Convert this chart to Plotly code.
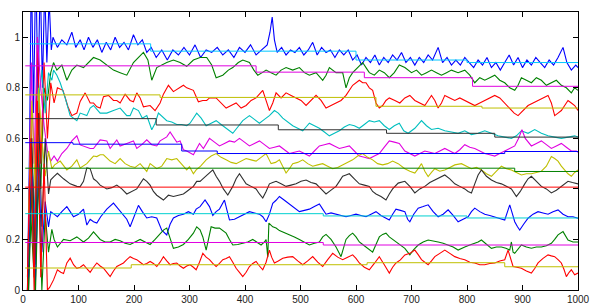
import plotly.graph_objects as go

# ---------------- data ----------------
BLUE_TOP = [(8,0.0),(12,0.6),(15,1.3),(19,0.7),(23,1.3),(27,0.75),(31,1.25),(35,0.8),(39,1.2),(43,0.9),(47,1.15),(51,0.95),
 (54,1.0),(62,0.96),(70,0.99),(79,0.97),(88,1.02),(95,0.96),(103,0.99),(110,0.95),(118,1.0),(126,0.96),(134,0.99),(142,0.94),
 (150,0.98),(158,0.95),(166,1.0),(174,0.96),(182,0.98),(190,0.95),(199,1.01),(207,0.97),(215,0.99),(223,0.94),(231,0.96),
 (240,0.92),(250,0.95),(260,0.91),(270,0.95),(280,0.93),(290,0.96),(300,0.93),(310,0.97),(320,0.92),(330,0.95),(340,0.94),
 (350,0.96),(360,0.93),(370,0.95),(380,0.92),(390,0.96),(400,0.94),(410,0.97),(420,0.93),(430,0.95),(440,0.97),(445,1.02),
 (449,1.08),(453,0.99),(458,0.94),(466,0.96),(474,0.93),(482,0.95),(490,0.94),(498,0.96),(506,0.93),(514,0.95),(522,0.98),
 (530,0.93),(538,0.96),(546,0.94),(554,0.95),(562,0.92),(570,0.95),(578,0.93),(586,0.95),(594,0.91),(602,0.93),(610,0.89),
 (618,0.92),(626,0.90),(634,0.93),(642,0.89),(650,0.92),(658,0.90),(666,0.93),(674,0.91),(682,0.94),(690,0.90),(698,0.92),
 (706,0.89),(714,0.92),(722,0.90),(730,0.93),(738,0.91),(748,0.96),(756,0.90),(764,0.92),(772,0.89),(780,0.91),(788,0.89),
 (796,0.92),(804,0.90),(812,0.88),(820,0.91),(828,0.89),(836,0.92),(844,0.88),(852,0.90),(860,0.87),(868,0.90),(876,0.93),
 (884,0.89),(892,0.92),(900,0.88),(908,0.91),(916,0.89),(924,0.92),(932,0.90),(940,0.88),(948,0.91),(956,0.89),(964,0.92),
 (973,0.96),(980,0.90),(988,0.87),(996,0.89),(1000,0.88)]

GREEN_TOP = [(8,0.0),(14,0.3),(20,0.05),(26,0.6),(32,0.4),(38,0.8),(44,0.75),(50,0.86),(55,0.9),(61,0.87),(70,0.89),(79,0.83),
 (88,0.87),(97,0.89),(109,0.88),(118,0.90),(127,0.92),(139,0.91),(151,0.89),(163,0.87),(175,0.86),(187,0.85),(199,0.90),
 (208,0.92),(217,0.94),(225,0.91),(232,0.83),(241,0.88),(250,0.89),(259,0.90),(271,0.91),(283,0.90),(295,0.885),(307,0.91),
 (319,0.92),(331,0.92),(340,0.89),(348,0.84),(360,0.85),(370,0.87),(378,0.88),(388,0.90),(396,0.91),(408,0.90),(416,0.87),
 (423,0.85),(431,0.86),(438,0.87),(447,0.86),(456,0.85),(465,0.87),(474,0.88),(486,0.87),(498,0.88),(507,0.86),(516,0.85),
 (528,0.86),(540,0.83),(546,0.85),(552,0.88),(564,0.86),(576,0.86),(582,0.80),(588,0.84),(594,0.86),(603,0.88),(612,0.90),
 (618,0.88),(624,0.86),(633,0.85),(642,0.87),(651,0.86),(660,0.84),(669,0.86),(678,0.89),(688,0.88),(700,0.86),(709,0.87),
 (718,0.85),(727,0.86),(736,0.87),(745,0.86),(754,0.85),(763,0.86),(772,0.87),(784,0.86),(796,0.87),(805,0.85),(814,0.82),
 (823,0.84),(832,0.83),(841,0.84),(850,0.85),(859,0.83),(868,0.82),(877,0.80),(886,0.79),(892,0.81),(898,0.84),(907,0.83),
 (916,0.82),(925,0.84),(934,0.83),(943,0.81),(952,0.82),(961,0.83),(970,0.81),(979,0.80),(988,0.78),(994,0.80),(1000,0.79)]

RED_TOP = [(8,0.0),(14,0.7),(20,0.1),(26,1.0),(32,0.5),(38,0.9),(44,0.6),(50,0.82),(56,0.74),(62,0.8),(72,0.79),(81,0.725),
 (88,0.69),(97,0.70),(103,0.746),(112,0.78),(121,0.74),(127,0.74),(133,0.725),(139,0.72),(145,0.765),(154,0.77),(163,0.75),
 (169,0.75),(175,0.74),(184,0.775),(193,0.75),(199,0.745),(205,0.78),(211,0.76),(217,0.725),(229,0.73),(238,0.71),(247,0.74),
 (253,0.775),(262,0.81),(271,0.785),(283,0.80),(289,0.81),(295,0.80),(307,0.79),(316,0.745),(324,0.75),(331,0.75),(336,0.76),
 (348,0.76),(357,0.74),(366,0.72),(375,0.73),(384,0.74),(393,0.72),(402,0.73),(411,0.75),(420,0.76),(432,0.79),(438,0.75),
 (444,0.71),(450,0.74),(456,0.78),(465,0.76),(474,0.78),(483,0.77),(492,0.76),(501,0.75),(510,0.73),(519,0.75),(528,0.77),
 (537,0.75),(546,0.72),(555,0.73),(564,0.74),(573,0.75),(582,0.77),(588,0.79),(594,0.81),(606,0.83),(612,0.82),(618,0.82),
 (624,0.80),(630,0.79),(636,0.74),(642,0.72),(648,0.73),(654,0.75),(660,0.76),(670,0.75),(679,0.74),(688,0.76),(697,0.77),
 (706,0.75),(715,0.74),(724,0.73),(730,0.75),(736,0.77),(742,0.75),(748,0.72),(754,0.74),(760,0.77),(769,0.76),(778,0.75),
 (787,0.76),(796,0.75),(805,0.74),(814,0.73),(823,0.74),(832,0.75),(841,0.76),(850,0.77),(859,0.76),(868,0.74),(877,0.72),
 (885,0.70),(892,0.69),(901,0.71),(910,0.73),(919,0.74),(928,0.75),(937,0.76),(946,0.77),(952,0.74),(958,0.69),(964,0.70),
 (970,0.71),(976,0.73),(982,0.75),(988,0.74),(994,0.73),(1000,0.71)]

CYAN_MID = [(10,0.1),(16,0.5),(22,0.3),(28,0.75),(34,0.87),(40,0.7),(46,0.86),(52,0.83),(55,0.87),(61,0.85),(67,0.82),(76,0.76),
 (85,0.69),(97,0.67),(103,0.70),(115,0.69),(121,0.72),(127,0.73),(139,0.70),(151,0.70),(163,0.71),(175,0.72),(187,0.69),
 (193,0.69),(199,0.72),(208,0.71),(215,0.68),(223,0.69),(232,0.634),(238,0.66),(244,0.70),(253,0.68),(259,0.67),(268,0.665),
 (277,0.655),(286,0.655),(295,0.65),(301,0.66),(307,0.68),(313,0.70),(321,0.68),(330,0.65),(339,0.66),(348,0.67),(357,0.655),
 (366,0.64),(378,0.62),(387,0.645),(396,0.67),(408,0.69),(417,0.675),(426,0.66),(435,0.675),(444,0.69),(453,0.71),(460,0.70),
 (468,0.68),(477,0.665),(486,0.65),(495,0.64),(504,0.63),(510,0.645),(516,0.66),(525,0.65),(534,0.64),(543,0.625),(552,0.61),
 (561,0.62),(570,0.63),(579,0.645),(588,0.655),(597,0.65),(606,0.64),(615,0.655),(624,0.67),(633,0.665),(642,0.67),(651,0.65),
 (660,0.635),(669,0.65),(678,0.66),(686,0.63),(694,0.62),(706,0.64),(718,0.67),(727,0.65),(736,0.635),(748,0.64),(760,0.63),
 (772,0.625),(784,0.62),(796,0.63),(808,0.615),(820,0.62),(832,0.63),(844,0.62),(856,0.61),(868,0.605),(880,0.60),(889,0.61),
 (898,0.63),(910,0.62),(922,0.635),(934,0.62),(946,0.61),(958,0.605),(970,0.60),(982,0.605),(994,0.61),(1000,0.605)]

MAGENTA_MID = [(10,0.2),(15,0.9),(20,0.5),(26,1.0),(32,0.8),(38,0.65),(44,0.55),(50,0.51),(56,0.53),(62,0.51),(70,0.54),(79,0.56),
 (88,0.59),(97,0.61),(103,0.574),(109,0.57),(121,0.56),(127,0.56),(139,0.594),(151,0.59),(157,0.56),(169,0.594),(175,0.57),
 (187,0.58),(199,0.59),(205,0.56),(214,0.575),(223,0.594),(232,0.575),(241,0.57),(247,0.59),(259,0.606),(265,0.625),(277,0.585),
 (283,0.59),(289,0.555),(295,0.55),(307,0.535),(313,0.56),(318,0.58),(325,0.56),(336,0.60),(345,0.585),(354,0.57),(363,0.58),
 (372,0.59),(381,0.585),(390,0.60),(399,0.585),(408,0.57),(417,0.58),(426,0.59),(435,0.575),(444,0.56),(453,0.565),(462,0.57),
 (471,0.555),(480,0.54),(489,0.545),(498,0.55),(507,0.54),(516,0.53),(525,0.55),(534,0.57),(543,0.575),(552,0.58),(561,0.57),
 (570,0.56),(579,0.565),(588,0.57),(597,0.55),(606,0.53),(615,0.525),(624,0.52),(633,0.53),(642,0.54),(651,0.565),(660,0.59),
 (669,0.585),(678,0.58),(688,0.55),(697,0.54),(706,0.53),(715,0.54),(724,0.55),(733,0.545),(742,0.54),(751,0.55),(760,0.56),
 (769,0.55),(778,0.54),(787,0.555),(796,0.575),(805,0.565),(814,0.56),(823,0.55),(832,0.54),(841,0.535),(850,0.53),(859,0.54),
 (868,0.55),(877,0.56),(886,0.57),(893,0.60),(899,0.634),(905,0.60),(916,0.57),(925,0.58),(934,0.59),(943,0.575),(952,0.56),
 (961,0.57),(970,0.58),(979,0.565),(988,0.55),(997,0.55),(1000,0.545)]

YELLOW_MID = [(10,0.3),(16,0.75),(22,0.4),(28,0.8),(34,0.6),(40,0.45),(46,0.55),(52,0.48),(57,0.495),(67,0.51),(79,0.475),(88,0.49),
 (97,0.515),(103,0.483),(115,0.50),(127,0.53),(133,0.528),(139,0.535),(145,0.535),(157,0.51),(166,0.50),(175,0.52),(184,0.50),
 (193,0.49),(202,0.485),(211,0.50),(223,0.469),(229,0.50),(241,0.48),(250,0.49),(259,0.52),(268,0.515),(277,0.52),(289,0.49),
 (295,0.475),(300,0.488),(307,0.46),(312,0.475),(320,0.49),(330,0.515),(339,0.53),(348,0.54),(357,0.525),(366,0.515),(375,0.505),
 (384,0.50),(393,0.51),(402,0.52),(411,0.515),(420,0.51),(429,0.525),(438,0.54),(447,0.50),(455,0.505),(462,0.515),(468,0.49),
 (474,0.463),(480,0.48),(486,0.50),(495,0.505),(504,0.515),(513,0.50),(522,0.49),(531,0.495),(540,0.50),(549,0.49),(558,0.48),
 (567,0.485),(576,0.495),(585,0.505),(594,0.515),(603,0.53),(612,0.54),(621,0.525),(630,0.515),(639,0.50),(648,0.495),(657,0.50),
 (666,0.51),(676,0.50),(688,0.48),(697,0.47),(706,0.463),(712,0.48),(718,0.50),(724,0.47),(730,0.449),(736,0.465),(742,0.48),
 (751,0.47),(760,0.475),(769,0.485),(778,0.495),(790,0.50),(799,0.49),(808,0.48),(817,0.485),(826,0.475),(835,0.46),(844,0.45),
 (853,0.47),(862,0.49),(871,0.48),(880,0.475),(889,0.465),(898,0.455),(907,0.46),(916,0.46),(925,0.465),(934,0.47),(943,0.49),
 (952,0.528),(958,0.52),(964,0.51),(970,0.49),(976,0.475),(982,0.46),(988,0.45),(994,0.465),(1000,0.475)]

BLACK_MID = [(10,0.0),(16,0.6),(22,0.1),(28,0.7),(34,0.25),(40,0.6),(46,0.38),(50,0.436),(56,0.45),(62,0.462),(73,0.44),(85,0.42),
 (97,0.41),(103,0.409),(109,0.43),(115,0.483),(121,0.48),(127,0.44),(133,0.43),(139,0.415),(151,0.40),(160,0.405),(169,0.415),
 (178,0.40),(187,0.38),(196,0.39),(205,0.40),(217,0.44),(223,0.43),(229,0.415),(235,0.39),(241,0.375),(247,0.365),(253,0.356),
 (262,0.375),(271,0.37),(280,0.375),(289,0.38),(295,0.39),(301,0.40),(307,0.41),(313,0.43),(319,0.43),(324,0.44),(331,0.455),
 (342,0.475),(348,0.45),(354,0.43),(361,0.40),(369,0.376),(378,0.41),(384,0.44),(390,0.46),(396,0.44),(402,0.42),(411,0.41),
 (420,0.40),(426,0.38),(432,0.364),(438,0.39),(444,0.42),(450,0.425),(456,0.43),(465,0.42),(474,0.41),(483,0.415),(492,0.42),
 (501,0.43),(510,0.435),(519,0.425),(528,0.42),(537,0.40),(546,0.38),(555,0.395),(564,0.41),(570,0.43),(576,0.45),(582,0.455),
 (588,0.46),(597,0.44),(606,0.42),(615,0.415),(624,0.41),(630,0.39),(636,0.38),(645,0.37),(654,0.356),(660,0.38),(666,0.40),
 (676,0.423),(688,0.43),(697,0.41),(706,0.384),(715,0.40),(724,0.41),(733,0.425),(742,0.435),(751,0.445),(760,0.455),(769,0.44),
 (778,0.42),(787,0.41),(796,0.40),(802,0.39),(808,0.384),(814,0.42),(820,0.455),(826,0.475),(835,0.45),(844,0.435),(853,0.425),
 (862,0.42),(871,0.41),(880,0.40),(889,0.37),(896,0.39),(904,0.42),(910,0.44),(916,0.45),(925,0.43),(934,0.41),(943,0.40),
 (952,0.384),(961,0.395),(970,0.41),(982,0.43),(990,0.425),(1000,0.42)]

BLUE_LOW = [(10,0.05),(16,0.45),(22,0.0),(28,0.5),(34,0.15),(40,0.35),(46,0.25),(50,0.31),(56,0.30),(62,0.29),(70,0.31),(79,0.33),
 (85,0.31),(91,0.29),(100,0.30),(109,0.32),(115,0.257),(121,0.28),(127,0.27),(133,0.265),(140,0.29),(151,0.32),(163,0.344),
 (172,0.32),(181,0.30),(187,0.28),(193,0.25),(200,0.29),(208,0.335),(215,0.31),(223,0.285),(232,0.29),(241,0.285),(250,0.237),
 (255,0.225),(259,0.218),(265,0.26),(271,0.285),(280,0.295),(289,0.30),(298,0.31),(307,0.30),(312,0.32),(319,0.33),(328,0.356),
 (336,0.33),(342,0.295),(348,0.31),(354,0.32),(363,0.356),(367,0.32),(372,0.277),(381,0.28),(390,0.29),(399,0.30),(408,0.31),
 (417,0.305),(426,0.30),(432,0.29),(438,0.27),(444,0.30),(450,0.343),(456,0.355),(462,0.37),(471,0.355),(480,0.34),(489,0.325),
 (498,0.31),(507,0.315),(516,0.32),(525,0.33),(534,0.34),(540,0.32),(546,0.30),(555,0.305),(564,0.30),(573,0.295),(582,0.29),
 (591,0.295),(600,0.30),(609,0.295),(618,0.29),(627,0.30),(636,0.31),(645,0.295),(654,0.285),(660,0.277),(666,0.30),(672,0.32),
 (680,0.315),(688,0.31),(693,0.28),(697,0.27),(704,0.30),(712,0.324),(721,0.33),(730,0.337),(739,0.31),(748,0.29),(757,0.30),
 (766,0.317),(775,0.295),(784,0.27),(793,0.28),(802,0.29),(808,0.31),(814,0.324),(823,0.31),(832,0.30),(841,0.295),(850,0.29),
 (859,0.285),(868,0.277),(873,0.31),(877,0.337),(882,0.30),(886,0.27),(891,0.25),(895,0.237),(902,0.26),(910,0.284),(919,0.30),
 (928,0.31),(937,0.305),(946,0.30),(955,0.31),(964,0.317),(973,0.30),(982,0.29),(991,0.29),(1000,0.284)]

GREEN_LOW = [(10,0.0),(16,0.4),(22,-0.05),(28,0.45),(34,0.0),(40,0.3),(46,0.15),(52,0.24),(56,0.2),(62,0.17),(73,0.20),(85,0.195),
 (97,0.21),(109,0.19),(118,0.205),(127,0.23),(133,0.215),(139,0.20),(148,0.19),(157,0.19),(166,0.20),(175,0.195),(184,0.185),
 (193,0.18),(202,0.19),(211,0.20),(220,0.19),(229,0.18),(238,0.20),(247,0.225),(253,0.237),(259,0.245),(265,0.20),(271,0.165),
 (280,0.17),(289,0.18),(298,0.20),(307,0.225),(313,0.25),(319,0.238),(324,0.21),(330,0.158),(339,0.25),(346,0.245),(354,0.245),
 (360,0.235),(366,0.225),(372,0.20),(378,0.178),(387,0.18),(396,0.185),(405,0.19),(414,0.20),(422,0.19),(429,0.178),(435,0.19),
 (438,0.20),(441,0.13),(443,0.265),(450,0.25),(456,0.245),(462,0.235),(468,0.23),(474,0.225),(480,0.22),(489,0.21),(498,0.20),
 (507,0.19),(516,0.178),(525,0.185),(534,0.19),(540,0.21),(546,0.22),(555,0.20),(564,0.17),(573,0.132),(578,0.17),(582,0.20),
 (588,0.215),(594,0.225),(600,0.21),(606,0.19),(612,0.18),(618,0.17),(624,0.16),(630,0.15),(636,0.18),(642,0.21),(648,0.22),
 (654,0.225),(660,0.21),(666,0.20),(672,0.19),(680,0.178),(688,0.165),(697,0.139),(704,0.16),(712,0.178),(721,0.19),(730,0.198),
 (739,0.195),(748,0.19),(757,0.185),(766,0.178),(775,0.17),(784,0.158),(790,0.165),(796,0.17),(805,0.178),(814,0.185),(820,0.19),
 (826,0.198),(835,0.18),(844,0.165),(853,0.17),(862,0.17),(870,0.165),(877,0.158),(880,0.19),(883,0.15),(886,0.145),(892,0.16),
 (898,0.178),(907,0.17),(916,0.165),(925,0.17),(934,0.17),(943,0.175),(952,0.185),(958,0.20),(964,0.218),(973,0.231),(979,0.21),
 (982,0.198),(991,0.19),(1000,0.19)]

RED_LOW = [(8,0.05),(14,0.6),(20,0.0),(26,0.75),(32,0.05),(38,0.5),(44,0.0),(48,0.01),(55,0.04),(62,0.08),(68,0.07),(73,0.065),
 (79,0.107),(85,0.126),(91,0.10),(97,0.086),(103,0.09),(109,0.10),(115,0.085),(121,0.07),(127,0.09),(133,0.107),(139,0.095),
 (145,0.086),(151,0.07),(157,0.053),(163,0.075),(169,0.093),(175,0.10),(181,0.107),(187,0.12),(193,0.132),(199,0.125),(205,0.12),
 (211,0.11),(217,0.10),(223,0.105),(229,0.113),(235,0.105),(241,0.093),(247,0.11),(253,0.132),(259,0.115),(265,0.10),(271,0.105),
 (277,0.107),(283,0.095),(289,0.086),(295,0.095),(301,0.10),(307,0.09),(312,0.08),(318,0.11),(324,0.145),(330,0.13),(336,0.12),
 (342,0.105),(348,0.093),(354,0.105),(360,0.12),(366,0.125),(372,0.132),(378,0.11),(384,0.086),(390,0.07),(396,0.053),(402,0.07),
 (408,0.093),(414,0.105),(420,0.113),(426,0.095),(432,0.08),(438,0.11),(444,0.158),(448,0.13),(453,0.107),(460,0.115),(468,0.126),
 (477,0.13),(486,0.132),(495,0.115),(504,0.10),(513,0.115),(522,0.132),(531,0.11),(540,0.093),(549,0.12),(558,0.145),(567,0.13),
 (576,0.12),(585,0.13),(594,0.139),(600,0.125),(606,0.107),(615,0.09),(624,0.08),(633,0.105),(642,0.132),(651,0.10),(660,0.067),
 (666,0.09),(672,0.107),(680,0.119),(688,0.139),(697,0.145),(706,0.158),(712,0.14),(718,0.12),(724,0.11),(730,0.10),(736,0.115),
 (742,0.132),(751,0.145),(760,0.158),(769,0.145),(778,0.132),(787,0.125),(796,0.12),(805,0.11),(814,0.107),(823,0.10),(832,0.10),
 (841,0.105),(850,0.107),(859,0.115),(868,0.12),(874,0.158),(879,0.12),(883,0.093),(890,0.09),(898,0.086),(907,0.075),(916,0.067),
 (922,0.085),(928,0.107),(937,0.125),(946,0.139),(952,0.135),(958,0.132),(964,0.12),(970,0.107),(975,0.08),(979,0.053),(984,0.07),
 (988,0.08),(994,0.06),(1000,0.067)]

# step-shaped reference levels: (start x of each level, level)
REF_CYAN_TOP = [(12,0.974),(230,0.945),(600,0.91),(800,0.90),(1000,0.90)]
REF_MAGENTA_TOP = [(4,0.887),(420,0.862),(615,0.84),(810,0.806),(1000,0.806)]
REF_YELLOW_TOP = [(4,0.772),(247,0.762),(636,0.727),(827,0.72),(1000,0.72)]
REF_BLACK = [(4,0.678),(240,0.653),(460,0.634),(655,0.62),(850,0.605),(1000,0.605)]
REF_BLUE = [(4,0.583),(90,0.577),(286,0.55),(350,0.54),(868,0.548),(1000,0.548)]
REF_GREEN = [(4,0.482),(886,0.469),(1000,0.469)]
REF_RED = [(4,0.407),(1000,0.407)]
REF_CYAN_LOW = [(4,0.302),(541,0.293),(800,0.285),(1000,0.285)]
REF_MAGENTA_LOW = [(4,0.188),(541,0.178),(1000,0.178)]
REF_YELLOW_LOW = [(4,0.087),(195,0.1),(620,0.108),(868,0.092),(1000,0.092)]

X_TICKS = [0, 100, 200, 300, 400, 500, 600, 700, 800, 900, 1000]
Y_TICKS = [0, 0.2, 0.4, 0.6, 0.8, 1]
Y_TICK_TEXT = ["0", "0.2", "0.4", "0.6", "0.8", "1"]

# ---------------- styling ----------------
B, G, R, C, M, Y, K = "#0000FF", "#008000", "#FF0000", "#00BFBF", "#E000E0", "#BFBF00", "#303030"

series = [(BLUE_TOP, B), (GREEN_TOP, G), (RED_TOP, R), (CYAN_MID, C), (MAGENTA_MID, M),
          (YELLOW_MID, Y), (BLACK_MID, K), (BLUE_LOW, B), (GREEN_LOW, G), (RED_LOW, R)]
refs = [(REF_CYAN_TOP, "#00C8FF"), (REF_MAGENTA_TOP, M), (REF_YELLOW_TOP, Y), (REF_BLACK, K), (REF_BLUE, B),
        (REF_GREEN, G), (REF_RED, R), (REF_CYAN_LOW, "#00D0D0"), (REF_MAGENTA_LOW, M), (REF_YELLOW_LOW, Y)]

fig = go.Figure()
for pts, col in series:
    xs, ys = zip(*pts)
    fig.add_trace(go.Scatter(x=list(xs), y=list(ys), mode="lines",
                             line=dict(color=col, width=1.1), hoverinfo="skip"))
for pts, col in refs:
    xs, ys = zip(*pts)
    fig.add_trace(go.Scatter(x=list(xs), y=list(ys), mode="lines",
                             line=dict(color=col, width=1, shape="hv"), hoverinfo="skip"))

axis_common = dict(showline=True, linecolor="#000000", linewidth=1, mirror="ticks",
                   ticks="inside", ticklen=5, tickcolor="#000000", showgrid=False,
                   zeroline=False, automargin=False,
                   tickfont=dict(family="Liberation Sans, Arial", size=10, color="#222222"))
fig.update_xaxes(range=[0, 1000], tickvals=X_TICKS, **axis_common)
fig.update_yaxes(range=[0, 1.1], tickvals=Y_TICKS, ticktext=Y_TICK_TEXT, **axis_common)
fig.update_layout(width=595, height=308, margin=dict(l=23, r=17, t=12, b=18, pad=0),
                  paper_bgcolor="white", plot_bgcolor="white", showlegend=False)
fig.write_html("out.html", config={"displayModeBar": False},
               post_script="document.body.style.margin='0px';document.body.style.overflow='hidden';")
